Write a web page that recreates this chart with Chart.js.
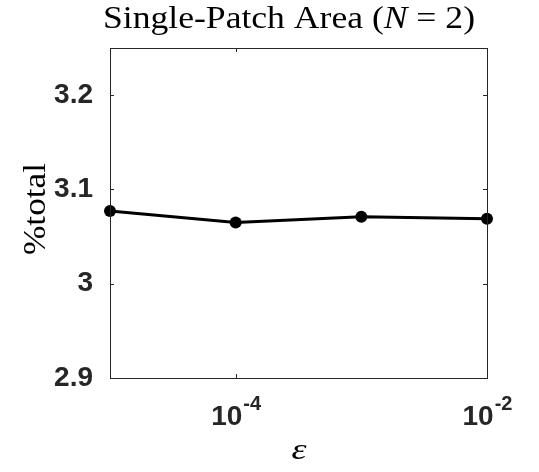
<!DOCTYPE html>
<html>
<head>
<meta charset="utf-8">
<script src="https://cdn.jsdelivr.net/npm/chart.js@4.4.0/dist/chart.umd.min.js"></script>
<style>
  html, body { margin: 0; padding: 0; background: #fff; }
  #wrap { width: 539px; height: 472px; }
</style>
</head>
<body>
<div id="wrap"><canvas id="areaChart" width="539" height="472"></canvas></div>
<script>
// data
const epsValues = [1e-5, 1e-4, 1e-3, 1e-2];
const areaPct = [3.077, 3.065, 3.071, 3.069];
const yTicks = [2.9, 3, 3.1, 3.2];
const xTicks = [1e-4, 1e-2];

const axisColor = '#262626';
const tickFont = 'bold 28px "Liberation Sans", Arial, sans-serif';
const supFont = 'bold 20px "Liberation Sans", Arial, sans-serif';
const serif = '"Liberation Serif", "Times New Roman", serif';

// draw text pieces [text, italic] squeezed/stretched to a given width
function drawParts(ctx, parts, cx, baseline, size, width) {
    let total = 0;
    parts.forEach(p => {
        ctx.font = (p[1] ? 'italic ' : '') + size + 'px ' + serif;
        total += ctx.measureText(p[0]).width;
    });
    const sx = width / total;
    ctx.save();
    ctx.translate(cx - width / 2, baseline);
    ctx.scale(sx, 1);
    let x = 0;
    ctx.textBaseline = 'alphabetic';
    ctx.textAlign = 'left';
    parts.forEach(p => {
        ctx.font = (p[1] ? 'italic ' : '') + size + 'px ' + serif;
        ctx.fillText(p[0], x, 0);
        x += ctx.measureText(p[0]).width;
    });
    ctx.restore();
}

const matlabAxes = {
    id: 'matlabAxes',
    afterDraw(chart) {
        const ctx = chart.ctx;
        const a = chart.chartArea;
        const xs = chart.scales.x, ys = chart.scales.y;
        ctx.save();
        ctx.strokeStyle = axisColor;
        ctx.lineWidth = 1;
        ctx.strokeRect(a.left + 0.5, a.top + 0.5, a.right - a.left, a.bottom - a.top);

        // inward ticks on all four sides
        ctx.beginPath();
        yTicks.forEach(v => {
            const y = Math.round(ys.getPixelForValue(v)) + 0.5;
            ctx.moveTo(a.left, y); ctx.lineTo(a.left + 4, y);
            ctx.moveTo(a.right, y); ctx.lineTo(a.right - 4, y);
        });
        xTicks.forEach(v => {
            const x = Math.round(xs.getPixelForValue(v)) + 0.5;
            ctx.moveTo(x, a.bottom); ctx.lineTo(x, a.bottom - 4);
            ctx.moveTo(x, a.top); ctx.lineTo(x, a.top + 4);
        });
        ctx.stroke();

        // x tick labels 10^n
        ctx.fillStyle = axisColor;
        ctx.textBaseline = 'alphabetic';
        ctx.textAlign = 'left';
        xTicks.forEach(v => {
            const x = xs.getPixelForValue(v);
            const exp = String(Math.round(Math.log10(v)));
            ctx.font = tickFont;
            const wb = ctx.measureText('10').width;
            ctx.font = supFont;
            const we = ctx.measureText(exp).width;
            const left = x - (wb + we) / 2;
            ctx.font = tickFont;
            ctx.fillText('10', left, 425);
            ctx.font = supFont;
            ctx.fillText(exp, left + wb + 1, 410);
        });

        // title
        ctx.fillStyle = '#000';
        drawParts(ctx, [['Single-Patch Area (', false], ['N', true], [' = 2)', false]], 289, 28, 31, 372);

        // x label
        drawParts(ctx, [['\u03b5', true]], 299, 459, 30, 15);

        // y label
        ctx.save();
        ctx.translate(45, 209);
        ctx.rotate(-Math.PI / 2);
        drawParts(ctx, [['%total', false]], 0, 0, 32, 92);
        ctx.restore();

        ctx.restore();
    }
};

const areaCtx = document.getElementById('areaChart').getContext('2d');
const areaChart = new Chart(areaCtx, {
    type: 'line',
    data: {
        labels: epsValues,
        datasets: [{
            data: epsValues.map((e, i) => ({ x: e, y: areaPct[i] })),
            borderColor: '#000',
            backgroundColor: '#000',
            borderWidth: 3,
            pointRadius: 6,
            pointBorderWidth: 0,
            tension: 0,
            clip: false
        }]
    },
    options: {
        responsive: false,
        animation: false,
        layout: { padding: { top: 48, right: 52, left: 0, bottom: 0 } },
        plugins: {
            legend: { display: false },
            tooltip: { enabled: false }
        },
        scales: {
            x: {
                type: 'logarithmic',
                min: 1e-5,
                max: 1e-2,
                grid: { display: false },
                border: { display: false },
                afterBuildTicks: s => { s.ticks = xTicks.map(v => ({ value: v })); },
                ticks: { callback: () => '' },
                afterFit: s => { s.height = 94; }
            },
            y: {
                min: 2.9,
                max: 3.25,
                grid: { display: false },
                border: { display: false },
                afterBuildTicks: s => { s.ticks = yTicks.map(v => ({ value: v })); },
                ticks: {
                    color: axisColor,
                    font: { family: '"Liberation Sans", Arial, sans-serif', size: 28, weight: 'bold' },
                    padding: 9,
                    callback: v => String(Number(v.toFixed(2)))
                },
                afterFit: s => { s.width = 110; }
            }
        }
    },
    plugins: [matlabAxes]
});
</script>
</body>
</html>
